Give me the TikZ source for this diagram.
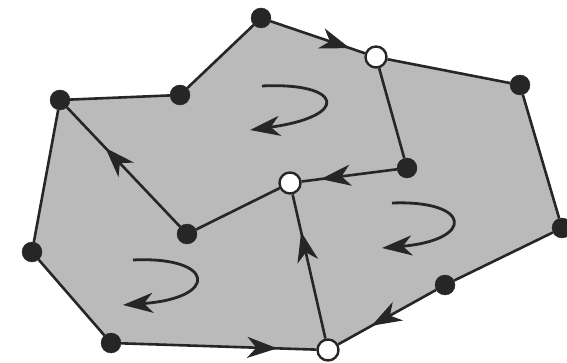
\documentclass[tikz,border=0pt]{standalone}
\usetikzlibrary{arrows.meta,decorations.markings}
\begin{document}
\begin{tikzpicture}[x=1pt,y=-1pt,
  bdot/.style={circle,fill=black!85,draw=black!85,inner sep=0pt,minimum size=20pt},
  wdot/.style={circle,fill=white,draw=black!85,line width=2.4pt,inner sep=0pt,minimum size=21pt},
  edge/.style={line width=2.6pt,draw=black!85},
  midarrow/.style={postaction={decorate},decoration={markings,mark=at position #1 with {\arrow{Stealth[length=30pt,width=21pt,inset=9pt]}}}},
  swirl/.style={line width=2.8pt,draw=black!85,-{Stealth[length=30pt,width=20pt,inset=9pt]}}]
\useasboundingbox (0,0) rectangle (567,363);
% shaded region
\fill[black!27] (261,18) -- (376,57) -- (520,85) -- (562,228) -- (445,285) -- (328,350) -- (111,343) -- (32,252) -- (60,100) -- (180,95) -- cycle;
% vertices
\node[bdot] (A) at (261,18) {};
\node[wdot] (W1) at (376,57) {};
\node[bdot] (B) at (520,85) {};
\node[bdot] (C) at (562,228) {};
\node[bdot] (D) at (445,285) {};
\node[wdot] (W3) at (328,350) {};
\node[bdot] (E) at (111,343) {};
\node[bdot] (F) at (32,252) {};
\node[bdot] (G) at (60,100) {};
\node[bdot] (H) at (180,95) {};
\node[wdot] (W2) at (290,183) {};
\node[bdot] (I) at (407,168) {};
\node[bdot] (J) at (187,234) {};
% outer edges
\draw[edge,midarrow=0.84] (A) -- (W1);
\draw[edge] (W1) -- (B);
\draw[edge] (B) -- (C);
\draw[edge] (C) -- (D);
\draw[edge,midarrow=0.66] (D) -- (W3);
\draw[edge,midarrow=0.80] (E) -- (W3);
\draw[edge] (F) -- (E);
\draw[edge] (G) -- (F);
\draw[edge] (G) -- (H);
\draw[edge] (H) -- (A);
% inner edges
\draw[edge] (W1) -- (I);
\draw[edge,midarrow=0.80] (I) -- (W2);
\draw[edge] (W2) -- (J);
\draw[edge,midarrow=0.66] (J) -- (G);
\draw[edge,midarrow=0.74] (W3) -- (W2);
% circulation arrows
\coordinate (s1) at (262,86);
\coordinate (e1) at (250,130);
\draw[swirl] (s1) .. controls (342,82) and (352,116) .. (e1);
\coordinate (s2) at (392,203);
\coordinate (e2) at (382,248);
\draw[swirl] (s2) .. controls (472,200) and (475,240) .. (e2);
\coordinate (s3) at (133,260);
\coordinate (e3) at (123,305);
\draw[swirl] (s3) .. controls (215,256) and (220,298) .. (e3);
\end{tikzpicture}
\end{document}
